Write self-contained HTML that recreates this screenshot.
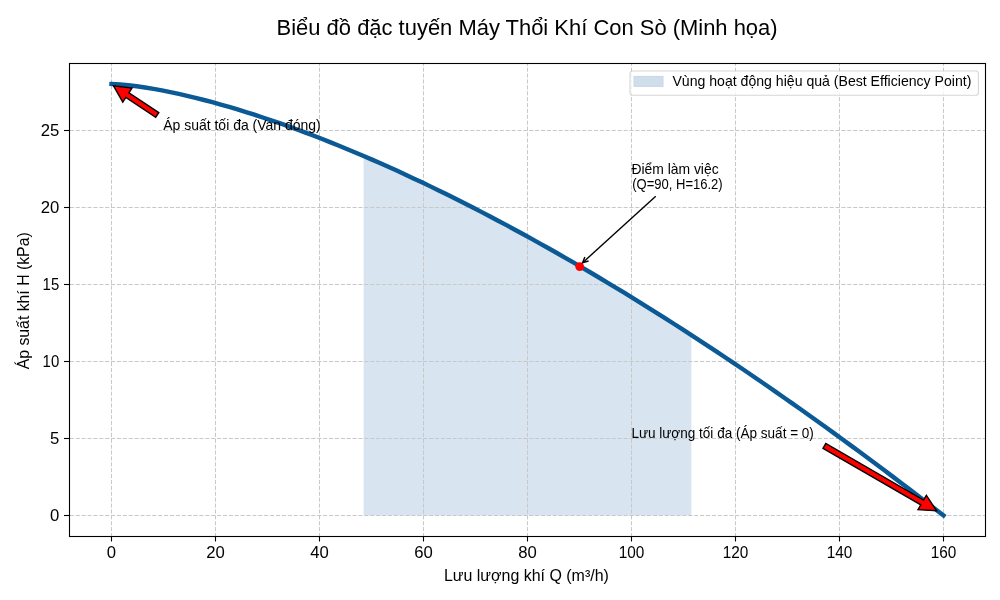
<!DOCTYPE html>
<html><head><meta charset="utf-8"><style>
html,body{margin:0;padding:0;background:#fff;}
svg{display:block;will-change:transform;}
text{font-family:"Liberation Sans",sans-serif;fill:#000;}
</style></head><body>
<svg width="1000" height="600" viewBox="0 0 1000 600">
<rect width="1000" height="600" fill="#fff"/>
<polygon points="363.62,156.00 372.03,159.62 380.43,163.31 388.83,167.06 397.24,170.86 405.64,174.72 414.05,178.64 422.45,182.60 430.85,186.63 439.26,190.71 447.66,194.83 456.07,199.02 464.47,203.25 472.87,207.53 481.28,211.87 489.68,216.25 498.09,220.68 506.49,225.16 514.89,229.69 523.30,234.27 531.70,238.89 540.11,243.56 548.51,248.27 556.91,253.03 565.32,257.84 573.72,262.69 582.13,267.59 590.53,272.52 598.93,277.51 607.34,282.53 615.74,287.60 624.15,292.71 632.55,297.86 640.95,303.06 649.36,308.29 657.76,313.57 666.17,318.89 674.57,324.25 682.97,329.64 691.38,335.08 691.38,515.50 363.62,515.50" fill="#d8e4f0"/>
<g stroke="#c8c8c8" stroke-width="1" stroke-dasharray="4.11 1.78" fill="none">
<line x1="111.5" y1="537.07" x2="111.5" y2="63"/>
<line x1="215.5" y1="537.07" x2="215.5" y2="63"/>
<line x1="319.5" y1="537.07" x2="319.5" y2="63"/>
<line x1="423.5" y1="537.07" x2="423.5" y2="63"/>
<line x1="527.5" y1="537.07" x2="527.5" y2="63"/>
<line x1="631.5" y1="537.07" x2="631.5" y2="63"/>
<line x1="735.5" y1="537.07" x2="735.5" y2="63"/>
<line x1="839.5" y1="537.07" x2="839.5" y2="63"/>
<line x1="943.5" y1="537.07" x2="943.5" y2="63"/>
<line x1="69.8" y1="515.5" x2="985" y2="515.5"/>
<line x1="69.8" y1="438.5" x2="985" y2="438.5"/>
<line x1="69.8" y1="361.5" x2="985" y2="361.5"/>
<line x1="69.8" y1="284.5" x2="985" y2="284.5"/>
<line x1="69.8" y1="207.5" x2="985" y2="207.5"/>
<line x1="69.8" y1="130.5" x2="985" y2="130.5"/>
</g>
<polyline points="111.50,84.02 119.90,84.46 128.31,85.26 136.71,86.30 145.12,87.52 153.52,88.92 161.92,90.46 170.33,92.13 178.73,93.93 187.14,95.85 195.54,97.87 203.94,100.00 212.35,102.23 220.75,104.55 229.16,106.97 237.56,109.47 245.96,112.05 254.37,114.72 262.77,117.47 271.18,120.30 279.58,123.20 287.98,126.17 296.39,129.22 304.79,132.34 313.20,135.52 321.60,138.77 330.01,142.09 338.41,145.47 346.81,148.92 355.22,152.43 363.62,156.00 372.03,159.62 380.43,163.31 388.83,167.06 397.24,170.86 405.64,174.72 414.05,178.64 422.45,182.60 430.85,186.63 439.26,190.71 447.66,194.83 456.07,199.02 464.47,203.25 472.87,207.53 481.28,211.87 489.68,216.25 498.09,220.68 506.49,225.16 514.89,229.69 523.30,234.27 531.70,238.89 540.11,243.56 548.51,248.27 556.91,253.03 565.32,257.84 573.72,262.69 582.13,267.59 590.53,272.52 598.93,277.51 607.34,282.53 615.74,287.60 624.15,292.71 632.55,297.86 640.95,303.06 649.36,308.29 657.76,313.57 666.17,318.89 674.57,324.25 682.97,329.64 691.38,335.08 699.78,340.56 708.19,346.08 716.59,351.63 724.99,357.23 733.40,362.86 741.80,368.53 750.21,374.24 758.61,379.99 767.02,385.77 775.42,391.59 783.82,397.45 792.23,403.35 800.63,409.28 809.04,415.25 817.44,421.25 825.84,427.29 834.25,433.37 842.65,439.48 851.06,445.62 859.46,451.80 867.86,458.02 876.27,464.27 884.67,470.56 893.08,476.88 901.48,483.23 909.88,489.62 918.29,496.04 926.69,502.49 935.10,508.98 943.50,515.50" fill="none" stroke="#0b5a96" stroke-width="4.4" stroke-linecap="square" stroke-linejoin="round"/>
<circle cx="579.7" cy="266.6" r="4.4" fill="#ff0000"/>
<g stroke="#000" stroke-width="1.1" fill="none">
<rect x="69.5" y="63.5" width="916" height="473"/>
<line x1="111.5" y1="536" x2="111.5" y2="541.5"/>
<line x1="215.5" y1="536" x2="215.5" y2="541.5"/>
<line x1="319.5" y1="536" x2="319.5" y2="541.5"/>
<line x1="423.5" y1="536" x2="423.5" y2="541.5"/>
<line x1="527.5" y1="536" x2="527.5" y2="541.5"/>
<line x1="631.5" y1="536" x2="631.5" y2="541.5"/>
<line x1="735.5" y1="536" x2="735.5" y2="541.5"/>
<line x1="839.5" y1="536" x2="839.5" y2="541.5"/>
<line x1="943.5" y1="536" x2="943.5" y2="541.5"/>
<line x1="64" y1="515.5" x2="69.5" y2="515.5"/>
<line x1="64" y1="438.5" x2="69.5" y2="438.5"/>
<line x1="64" y1="361.5" x2="69.5" y2="361.5"/>
<line x1="64" y1="284.5" x2="69.5" y2="284.5"/>
<line x1="64" y1="207.5" x2="69.5" y2="207.5"/>
<line x1="64" y1="130.5" x2="69.5" y2="130.5"/>
</g>
<g font-size="16.7px">
<text x="111.5" y="557.6" text-anchor="middle">0</text>
<text x="215.5" y="557.6" text-anchor="middle">20</text>
<text x="319.5" y="557.6" text-anchor="middle">40</text>
<text x="423.5" y="557.6" text-anchor="middle">60</text>
<text x="527.5" y="557.6" text-anchor="middle">80</text>
<text x="631.5" y="557.6" text-anchor="middle" textLength="25.6" lengthAdjust="spacingAndGlyphs">100</text>
<text x="735.5" y="557.6" text-anchor="middle" textLength="25.6" lengthAdjust="spacingAndGlyphs">120</text>
<text x="839.5" y="557.6" text-anchor="middle" textLength="25.6" lengthAdjust="spacingAndGlyphs">140</text>
<text x="943.5" y="557.6" text-anchor="middle" textLength="25.6" lengthAdjust="spacingAndGlyphs">160</text>
<text x="59.2" y="521.1" text-anchor="end">0</text>
<text x="59.2" y="444.1" text-anchor="end">5</text>
<text x="59.2" y="367.1" text-anchor="end" textLength="16.6" lengthAdjust="spacingAndGlyphs">10</text>
<text x="59.2" y="290.1" text-anchor="end" textLength="16.6" lengthAdjust="spacingAndGlyphs">15</text>
<text x="59.2" y="213.1" text-anchor="end">20</text>
<text x="59.2" y="136.1" text-anchor="end">25</text>
</g>
<polygon points="158.79,112.58 128.93,92.79 132.00,88.16 113.50,85.90 122.79,102.06 125.86,97.43 155.71,117.22" fill="#ff0000" stroke="#000" stroke-width="1.39" stroke-linejoin="miter"/>
<polygon points="823.01,448.31 920.78,504.86 918.00,509.67 936.60,510.80 926.34,495.24 923.56,500.05 825.79,443.49" fill="#ff0000" stroke="#000" stroke-width="1.39" stroke-linejoin="miter"/>
<g stroke="#000" stroke-width="1.39" fill="none" stroke-linecap="butt">
<line x1="655.75" y1="196.25" x2="582.60" y2="262.70"/>
<polyline points="584.85,256.90 582.60,262.70 588.58,261.02"/>
</g>
<g font-size="13.9px">
<text x="163.2" y="129.9" textLength="157.5" lengthAdjust="spacingAndGlyphs">Áp suất tối đa (Van đóng)</text>
<text x="631.4" y="173.7">Điểm làm việc</text>
<text x="632.2" y="188.6" textLength="90.5" lengthAdjust="spacingAndGlyphs">(Q=90, H=16.2)</text>
<text x="631.4" y="437.8" textLength="182.5" lengthAdjust="spacingAndGlyphs">Lưu lượng tối đa (Áp suất = 0)</text>
</g>
<text x="276.6" y="34.6" font-size="22.2px" textLength="501" lengthAdjust="spacingAndGlyphs">Biểu đồ đặc tuyến Máy Thổi Khí Con Sò (Minh họa)</text>
<text x="443.9" y="580.8" font-size="16.7px" textLength="165" lengthAdjust="spacingAndGlyphs">Lưu lượng khí Q (m³/h)</text>
<text transform="translate(28.8,369.3) rotate(-90)" x="0" y="0" font-size="16.7px" textLength="137" lengthAdjust="spacingAndGlyphs">Áp suất khí H (kPa)</text>
<g>
<rect x="630" y="71" width="348.4" height="24.2" rx="2.8" fill="#fff" fill-opacity="0.8" stroke="#ccc" stroke-opacity="0.8" stroke-width="1.1"/>
<rect x="634" y="76.4" width="29" height="10" fill="#d0deec" stroke="#c8d8e8" stroke-width="1"/>
<text x="672.4" y="85.6" font-size="13.9px" textLength="299" lengthAdjust="spacingAndGlyphs">Vùng hoạt động hiệu quả (Best Efficiency Point)</text>
</g>
</svg>
</body></html>
